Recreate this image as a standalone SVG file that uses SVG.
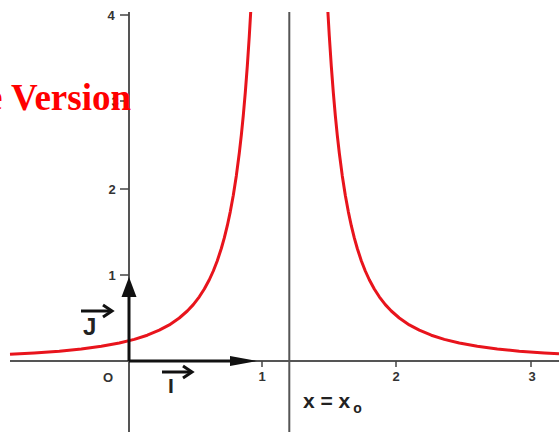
<svg xmlns="http://www.w3.org/2000/svg" width="559" height="432" viewBox="0 0 559 432">
<style>
.axis{stroke:#555;stroke-width:2;fill:none}
.tick{stroke:#444;stroke-width:1.5}
.lbl{font-family:"Liberation Sans",Arial,sans-serif;font-weight:bold;font-size:13px;fill:#333;text-anchor:middle}
.curve{stroke:#e8141c;stroke-width:3;fill:none;stroke-linejoin:round}
.vec{stroke:#111;stroke-width:3;fill:none}
.vecname{font-family:"Liberation Sans",Arial,sans-serif;font-weight:bold;fill:#222}
</style>
<rect width="559" height="432" fill="#fff"/>
<g id="axes">
<line class="axis" x1="10" y1="361" x2="559" y2="361"/>
<line class="axis" x1="129" y1="12" x2="129" y2="432"/>
<line class="axis" x1="289.3" y1="12" x2="289.3" y2="432"/>
</g>
<g id="ticks">
<line class="tick" x1="120" y1="15" x2="129" y2="15"/>
<line class="tick" x1="120" y1="101" x2="129" y2="101"/>
<line class="tick" x1="120" y1="189" x2="129" y2="189"/>
<line class="tick" x1="120" y1="275" x2="129" y2="275"/>
<line class="tick" x1="262" y1="361" x2="262" y2="367"/>
<line class="tick" x1="396" y1="361" x2="396" y2="367"/>
<line class="tick" x1="531" y1="361" x2="531" y2="367"/>
<text class="lbl" x="111" y="20" font-size="14">4</text>
<text class="lbl" x="115" y="106">3</text>
<text class="lbl" x="112" y="194">2</text>
<text class="lbl" x="112" y="280">1</text>
<text class="lbl" x="262" y="381" font-size="15">1</text>
<text class="lbl" x="396" y="381" font-size="15">2</text>
<text class="lbl" x="532" y="381" font-size="15">3</text>
<text class="lbl" x="108" y="382" font-size="16">O</text>
</g>
<g id="curve">
<path class="curve" d="M10,354.3 L34.3,353 L59.3,351.2 L81.3,349 L101.3,346.3 L119.3,343 L134.3,339.4 L147.3,335.2 L159.3,330.2 L169.3,324.9 L179.3,318 L187.3,311 L193.3,304.6 L199.3,296.8 L204.3,289 L209.3,279.75 L213.3,271 L217.3,260.7 L221.3,248.5 L224.3,237.9 L227.3,225.7 L230.3,211.6 L233.3,195.2 L236.3,175.9 L239.3,153 L241.3,135.3 L243.3,115.3 L245.3,92.4 L247.3,66.2 L249.3,36 L250.7,12"/>
<path class="curve" d="M327.9,12 L329.3,36 L331.3,66.2 L333.3,92.4 L335.3,115.3 L337.3,135.3 L339.3,153 L342.3,175.9 L345.3,195.2 L348.3,211.6 L351.3,225.7 L354.3,237.9 L357.3,248.5 L361.3,260.7 L365.3,271 L369.3,279.75 L374.3,289 L379.3,296.8 L385.3,304.6 L391.3,311 L399.3,318 L409.3,324.9 L419.3,330.2 L431.3,335.2 L444.3,339.4 L459.3,343 L477.3,346.3 L497.3,349 L519.3,351.2 L544.3,353 L559,353.85"/>
</g>
<g id="vector-j">
<line class="vec" x1="129" y1="361" x2="129" y2="294"/>
<polygon points="129,277 121.5,297 136.5,297" fill="#111"/>
<text class="vecname" x="83" y="335" font-size="24">J</text>
<line class="vec" x1="81" y1="311" x2="112" y2="311" stroke-width="3"/>
<polyline class="vec" points="103,305 112,311 103,317" stroke-width="3"/>
</g>
<g id="vector-i">
<line class="vec" x1="129" y1="361" x2="234" y2="361"/>
<polygon points="257,361 230,356 230,366" fill="#111"/>
<text class="vecname" x="168" y="393" font-size="21">I</text>
<line class="vec" x1="162" y1="372" x2="192" y2="372" stroke-width="3"/>
<polyline class="vec" points="183,366 192,372 183,378" stroke-width="3"/>
</g>
<g id="asymptote-label">
<text class="vecname" x="303" y="408" font-size="21" fill="#3a3a3a">x = x<tspan font-size="14" dx="3" dy="5">o</tspan></text>
</g>
<g id="watermark">
<text x="131" y="110" font-family="'Liberation Serif','Times New Roman',serif" font-weight="bold" font-size="37" fill="#ff0000" text-anchor="end">e Version</text>
</g>
</svg>
